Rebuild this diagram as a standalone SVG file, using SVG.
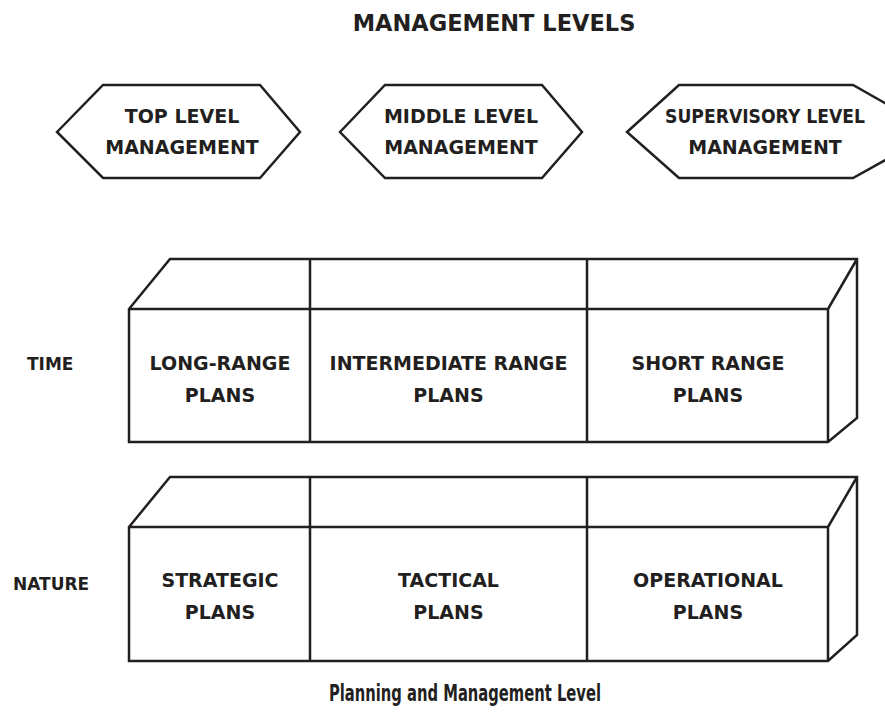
<svg xmlns="http://www.w3.org/2000/svg" width="885" height="712" viewBox="0 0 885 712">
<style>
.s{fill:none;stroke:#231f20;stroke-width:2.5;stroke-linejoin:miter}
.t{font-family:"DejaVu Sans",sans-serif;font-weight:bold;font-size:19px;fill:#231f20;text-anchor:middle}
.l{font-family:"DejaVu Sans",sans-serif;font-weight:bold;font-size:17px;fill:#231f20}
</style>
<rect width="885" height="712" fill="#ffffff"/>
<text x="494" y="31" class="t" style="font-size:22.5px">MANAGEMENT LEVELS</text>
<g id="hex-top">
<polygon class="s" points="57,132 103,85 260,85 300,132 260,178 103,178"/>
<text x="182" y="123" class="t">TOP LEVEL</text>
<text x="182" y="154" class="t">MANAGEMENT</text>
</g>
<g id="hex-middle">
<polygon class="s" points="340,132 385,85 542,85 582,132 542,178 385,178"/>
<text x="461" y="123" class="t">MIDDLE LEVEL</text>
<text x="461" y="154" class="t">MANAGEMENT</text>
</g>
<g id="hex-supervisory">
<polygon class="s" points="627,132 679,85 853,85 936,132 853,178 679,178"/>
<text x="765" y="123" class="t" textLength="200" lengthAdjust="spacingAndGlyphs">SUPERVISORY LEVEL</text>
<text x="765" y="154" class="t">MANAGEMENT</text>
</g>
<g id="label-time"><text x="27" y="370" class="l">TIME</text></g>
<g id="label-nature"><text x="13" y="590" class="l">NATURE</text></g>
<g id="box-time">
<path class="s" d="M129,309 L170,259 L857,259 L857,418 L828,442 L129,442 Z M129,309 L828,309 L828,442 M828,309 L857,259 M310,259 L310,442 M587,259 L587,442"/>
<text x="220" y="370" class="t">LONG-RANGE</text>
<text x="220" y="402" class="t">PLANS</text>
<text x="448.5" y="370" class="t">INTERMEDIATE RANGE</text>
<text x="448.5" y="402" class="t">PLANS</text>
<text x="708" y="370" class="t">SHORT RANGE</text>
<text x="708" y="402" class="t">PLANS</text>
</g>
<g id="box-nature">
<path class="s" d="M129,527 L170,477 L857,477 L857,635 L828,661 L129,661 Z M129,527 L828,527 L828,661 M828,527 L857,477 M310,477 L310,661 M587,477 L587,661"/>
<text x="220" y="587" class="t">STRATEGIC</text>
<text x="220" y="619" class="t">PLANS</text>
<text x="448.5" y="587" class="t">TACTICAL</text>
<text x="448.5" y="619" class="t">PLANS</text>
<text x="708" y="587" class="t">OPERATIONAL</text>
<text x="708" y="619" class="t">PLANS</text>
</g>
<g id="connectors"></g>
<text x="465" y="701" class="t" style="font-size:23px" textLength="272" lengthAdjust="spacingAndGlyphs">Planning and Management Level</text>
</svg>
